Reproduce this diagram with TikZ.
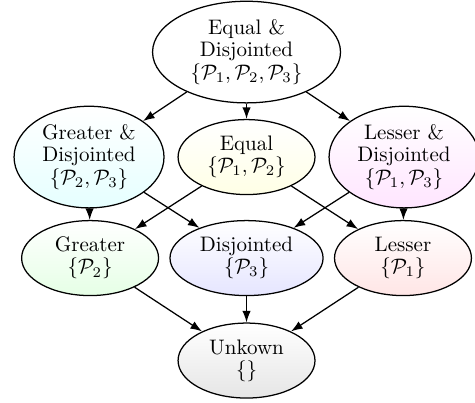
\documentclass[tikz,border=0pt]{standalone}
\usepackage{tikz}
\usetikzlibrary{arrows.meta,positioning,shapes.geometric}
\colorlet{fillGD}{cyan!10}
\colorlet{fillEq}{yellow!10}
\colorlet{fillLD}{magenta!10}
\colorlet{fillG}{green!10}
\colorlet{fillD}{blue!10}
\colorlet{fillL}{red!10}
\colorlet{fillU}{gray!20}

\begin{document}
\begin{tikzpicture}[
  on grid,
  elt/.style={ellipse,draw,semithick,align=center,inner sep=0pt,
              minimum width=65.2pt,minimum height=35.7pt,
              font=\fontsize{10pt}{10.5pt}\selectfont,
              top color=white,bottom color=#1},
  elt/.default=white,
  tall/.style={minimum width=71.4pt,minimum height=48.4pt},
  link/.style={-{Latex[length=5.5pt,width=4pt]},semithick}
]
\useasboundingbox (-117.4pt,24.8pt) rectangle (108.8pt,-167.1pt);
\node[elt,tall,minimum width=89.5pt] (top)
  {Equal \&\\ Disjointed\\ $\{\mathcal{P}_1,\mathcal{P}_2,\mathcal{P}_3\}$};
\node[elt=fillEq,below=50pt of top] (eq)
  {Equal\\ $\{\mathcal{P}_1,\mathcal{P}_2\}$};
\node[elt=fillGD,tall,left=75pt of eq] (grdis)
  {Greater \&\\ Disjointed\\ $\{\mathcal{P}_2,\mathcal{P}_3\}$};
\node[elt=fillLD,tall,right=75pt of eq] (lesdis)
  {Lesser \&\\ Disjointed\\ $\{\mathcal{P}_1,\mathcal{P}_3\}$};
\node[elt=fillD,minimum width=72.9pt,below=48.1pt of eq] (dis)
  {Disjointed\\ $\{\mathcal{P}_3\}$};
\node[elt=fillG,left=74.5pt of dis] (gr)
  {Greater\\ $\{\mathcal{P}_2\}$};
\node[elt=fillL,right=74.5pt of dis] (les)
  {Lesser\\ $\{\mathcal{P}_1\}$};
\node[elt=fillU,below=48.8pt of dis] (unk)
  {Unkown\\ $\{\}$};
\draw[link] (top)--(grdis);
\draw[link] (top)--(eq);
\draw[link] (top)--(lesdis);
\draw[link] (grdis)--(gr);
\draw[link] (grdis)--(dis);
\draw[link] (eq)--(gr);
\draw[link] (eq)--(les);
\draw[link] (lesdis)--(dis);
\draw[link] (lesdis)--(les);
\draw[link] (gr)--(unk);
\draw[link] (dis)--(unk);
\draw[link] (les)--(unk);
\end{tikzpicture}
\end{document}
